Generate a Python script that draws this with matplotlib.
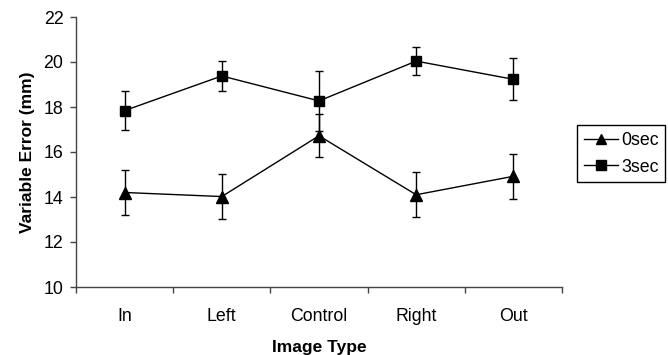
import matplotlib
matplotlib.use("Agg")
import matplotlib.pyplot as plt
from matplotlib.ticker import FixedLocator
from matplotlib.lines import Line2D

categories = ["In", "Left", "Control", "Right", "Out"]
sec0 = [14.2, 14.02, 16.72, 14.1, 14.92]
sec0_err = [1.0, 1.0, 0.95, 1.0, 1.0]
sec3 = [17.84, 19.38, 18.27, 20.04, 19.23]
sec3_err = [0.87, 0.68, 1.33, 0.62, 0.93]
yticks = [10, 12, 14, 16, 18, 20, 22]

plt.rcParams['font.family'] = ['Liberation Sans', 'DejaVu Sans']

fig = plt.figure(figsize=(6.68, 3.55), dpi=100)
ax = fig.add_axes([76/668, 1-287/355, (562-76)/668, (287-17)/355])

x = list(range(len(categories)))
ax.errorbar(x, sec0, yerr=sec0_err, color='black', marker='^', markersize=8,
            lw=1, elinewidth=1, capsize=3, capthick=1)
ax.errorbar(x, sec3, yerr=sec3_err, color='black', marker='s', markersize=7.5,
            lw=1, elinewidth=1, capsize=3, capthick=1)

ax.set_xlim(-0.5, len(categories) - 0.5)
ax.set_ylim(10, 22)
ax.set_yticks(yticks)
ax.set_xticks(x)
ax.set_xticklabels(categories)
ax.xaxis.set_minor_locator(FixedLocator([i - 0.5 for i in range(len(categories) + 1)]))
ax.tick_params(axis='x', which='major', length=0, pad=15, labelsize=12.8)
ax.tick_params(axis='x', which='minor', length=4, width=1, direction='out', color='#444444')
ax.tick_params(axis='y', which='major', length=4, width=1, direction='out', pad=5,
               labelsize=12.8, color='#444444')

for s in ['top', 'right']:
    ax.spines[s].set_visible(False)
for s in ['left', 'bottom']:
    ax.spines[s].set_linewidth(1)
    ax.spines[s].set_color('#444444')

ax.set_xlabel("Image Type", fontsize=12.5, fontweight='bold', labelpad=11)
ax.set_ylabel("Variable Error (mm)", fontsize=12.5, fontweight='bold', labelpad=6)

handles = [Line2D([], [], color='black', lw=1, marker='^', markersize=7.5),
           Line2D([], [], color='black', lw=1, marker='s', markersize=7)]
leg = fig.legend(handles=handles, labels=['0sec', '3sec'], loc='upper left',
                 bbox_to_anchor=(577/668, 1-125/355), fontsize=12.8, frameon=True,
                 fancybox=False, edgecolor='black', framealpha=1, borderpad=0.38,
                 handlelength=1.95, handletextpad=0.15, labelspacing=0.55, borderaxespad=0)
leg.get_frame().set_linewidth(1)

fig.savefig("out.png", dpi=100)
